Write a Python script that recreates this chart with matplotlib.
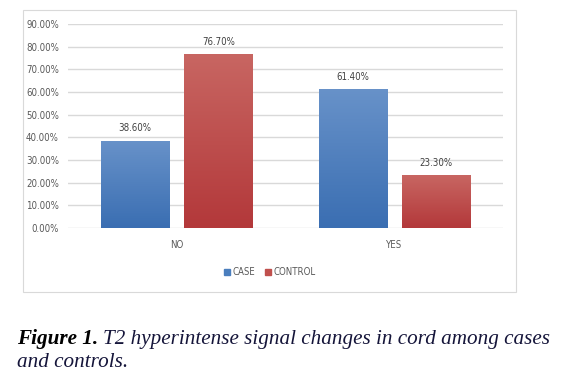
import matplotlib
matplotlib.use("Agg")
import matplotlib.pyplot as plt
import numpy as np
from matplotlib.colors import LinearSegmentedColormap
from matplotlib.patches import Rectangle
from matplotlib.ticker import FuncFormatter
from matplotlib import font_manager

categories = ["NO", "YES"]
series_names = ["CASE", "CONTROL"]
case_values = [38.60, 61.40]
control_values = [76.70, 23.30]
yticks = [0, 10, 20, 30, 40, 50, 60, 70, 80, 90]

names = {f.name for f in font_manager.fontManager.ttflist}
tick_font = ["Liberation Sans Narrow"] if "Liberation Sans Narrow" in names else ["DejaVu Sans"]
tick_stretch = "normal" if tick_font[0] == "Liberation Sans Narrow" else "condensed"
tick_size = 7.5 if tick_font[0] == "Liberation Sans Narrow" else 6.9

W, H = 572, 374
fig = plt.figure(figsize=(W / 100, H / 100), dpi=100)
fig.patch.set_facecolor("white")

# chart border
fig.add_artist(Rectangle((23 / W, 1 - 292 / H), (516 - 23) / W, (292 - 10) / H,
                         transform=fig.transFigure, fill=False,
                         edgecolor="#d9d9d9", linewidth=0.8))

ax = fig.add_axes([68 / W, 1 - 228 / H, (503 - 68) / W, (228 - 24) / H])
ax.set_facecolor("white")

x = np.arange(len(categories))
bw = 0.313
off = 0.191
blue_cmap = LinearSegmentedColormap.from_list("b", ["#3a6eb2", "#6892c9"])
red_cmap = LinearSegmentedColormap.from_list("r", ["#b3383a", "#c86662"])

fp = dict(family=tick_font, stretch=tick_stretch)

for vals, sign, cmap, col in [(case_values, -1, blue_cmap, "#4a7ebd"),
                              (control_values, 1, red_cmap, "#c0504d")]:
    bars = ax.bar(x + sign * off, vals, width=bw, color=col, zorder=2,
                  edgecolor="none")
    for b, v in zip(bars, vals):
        x0, w, h = b.get_x(), b.get_width(), b.get_height()
        grad = np.linspace(0, 1, 256).reshape(-1, 1)
        im = ax.imshow(grad, extent=[x0, x0 + w, 0, h], origin="lower",
                       cmap=cmap, aspect="auto", zorder=3)
        im.set_clip_path(b)
        ax.text(x0 + w / 2, h + 3.2, f"{v:.2f}%", ha="center", va="bottom",
                fontsize=tick_size, color="#404040", **fp)

ax.set_xlim(-0.5, 1.5)
ax.set_ylim(0, 90)
ax.set_yticks(yticks)
ax.yaxis.set_major_formatter(FuncFormatter(lambda v, p: f"{v:.2f}%"))
ax.set_xticks(x)
ax.set_xticklabels(categories)
ax.tick_params(axis="both", length=0, labelsize=tick_size, labelcolor="#595959")
ax.tick_params(axis="y", pad=6.5)
ax.tick_params(axis="x", pad=9)
for lab in ax.get_xticklabels() + ax.get_yticklabels():
    lab.set_family(tick_font)
    lab.set_stretch(tick_stretch)
ax.grid(axis="y", color="#d9d9d9", linewidth=1.0, zorder=0)
ax.set_axisbelow(True)
for s in ax.spines.values():
    s.set_visible(False)

# legend
handles = [Rectangle((0, 0), 1, 1, color="#4a7ebd"),
           Rectangle((0, 0), 1, 1, color="#c0504d")]
leg = fig.legend(handles, series_names, loc="center",
                 bbox_to_anchor=(270 / W, 1 - 272 / H), ncol=2, frameon=False,
                 handlelength=0.6, handleheight=0.6, handletextpad=0.3,
                 columnspacing=1.0,
                 prop=font_manager.FontProperties(family=tick_font,
                                                  stretch=tick_stretch,
                                                  size=tick_size))
for t in leg.get_texts():
    t.set_color("#595959")

# caption
cap_col = "#15153a"
cap_size = 15.2
t1 = fig.text(17 / W, 1 - 344 / H, "Figure 1.", fontsize=cap_size,
              family="Liberation Serif", style="italic", weight="bold",
              color="#000000", va="baseline")
fig.canvas.draw()
bb = t1.get_window_extent()
fig.text((bb.x1 + 5) / W, 1 - 344 / H,
         "T2 hyperintense signal changes in cord among cases",
         fontsize=cap_size, family="Liberation Serif", style="italic",
         color=cap_col, va="baseline")
fig.text(17 / W, 1 - 367 / H, "and controls.", fontsize=cap_size,
         family="Liberation Serif", style="italic", color=cap_col,
         va="baseline")

fig.savefig("out.png", dpi=100)
